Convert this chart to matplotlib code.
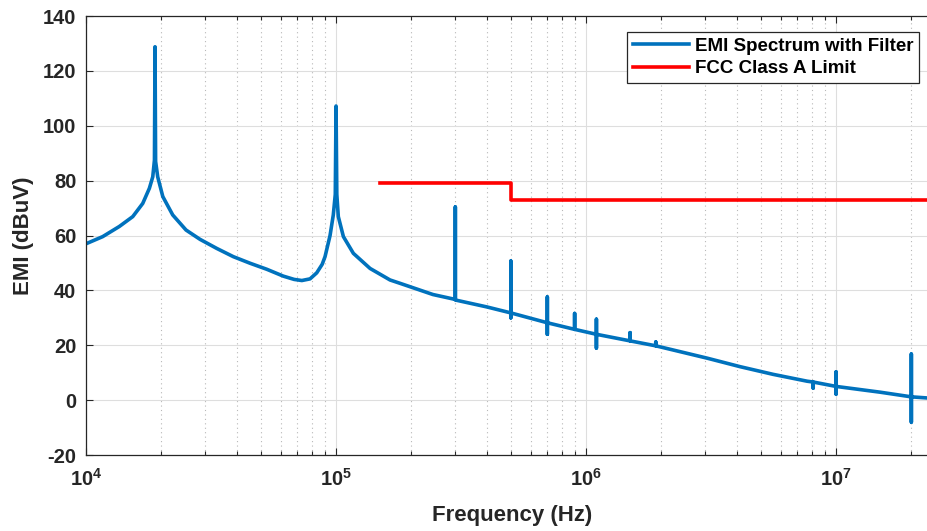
import matplotlib
matplotlib.use('Agg')
import matplotlib.pyplot as plt
from matplotlib.ticker import LogLocator, NullFormatter, MultipleLocator

plt.rcParams['font.family'] = ['Liberation Sans', 'DejaVu Sans']
plt.rcParams['font.weight'] = 'bold'
plt.rcParams['mathtext.fontset'] = 'custom'
plt.rcParams['mathtext.rm'] = 'Liberation Sans:bold'
plt.rcParams['mathtext.bf'] = 'Liberation Sans:bold'
plt.rcParams['mathtext.default'] = 'rm'
plt.rcParams['axes.unicode_minus'] = False

# EMI spectrum (Hz, dBuV); repeated frequencies are the narrow spikes
freq_hz = [1.0e4, 1.166e4, 1.359e4, 1.538e4, 1.686e4, 1.792e4, 1.849e4, 1.878e4, 1.888e4, 1.898e4,
           1.935e4, 2.028e4, 2.222e4, 2.512e4, 2.858e4, 3.333e4, 3.882e4, 4.529e4, 5.284e4, 6.152e4,
           6.8e4, 7.3e4, 7.87e4, 8.37e4, 8.8e4, 9.036e4, 9.462e4, 9.75e4, 9.93e4, 1.0e5,
           1.007e5, 1.021e5, 1.07e5, 1.173e5, 1.368e5, 1.644e5, 1.8e5, 2.44e5,
           3.0e5, 3.0e5, 3.0e5, 4.0e5,
           5.0e5, 5.0e5, 5.0e5, 5.0e5,
           7.0e5, 7.0e5, 7.0e5, 7.0e5,
           9.0e5, 9.0e5, 9.0e5,
           1.1e6, 1.1e6, 1.1e6, 1.1e6,
           1.5e6, 1.5e6, 1.5e6,
           1.9e6, 1.9e6, 1.9e6,
           3.05e6, 4.13e6, 5.6e6, 7.66e6, 8.1e6, 8.1e6, 8.1e6,
           1.0e7, 1.0e7, 1.0e7, 1.0e7, 1.5e7,
           2.0e7, 2.0e7, 2.0e7, 2.0e7, 2.31e7]
emi_dbuv = [57.0, 59.6, 63.3, 66.9, 71.7, 77.2, 81.4, 87.5, 128.8, 87.0,
            81.4, 74.2, 67.5, 62.0, 58.6, 55.3, 52.3, 49.9, 47.7, 45.2,
            44.0, 43.6, 44.2, 46.4, 49.5, 52.3, 60.0, 67.5, 75.0, 107.2,
            75.0, 66.9, 59.6, 53.5, 48.0, 43.8, 42.6, 38.5,
            36.7, 70.4, 36.5, 34.0,
            31.8, 50.7, 30.0, 31.8,
            28.2, 37.6, 24.0, 28.2,
            25.8, 31.6, 25.8,
            24.0, 29.5, 19.0, 24.0,
            21.6, 24.6, 21.6,
            19.8, 21.2, 19.8,
            15.3, 12.2, 9.4, 6.9, 6.6, 4.4, 6.6,
            5.0, 10.3, 2.2, 5.0, 2.9,
            1.2, 16.8, -8.0, 1.2, 0.8]

# FCC Class A conducted limit
limit_freq_hz = [1.5e5, 5.0e5, 5.0e5, 3.0e7]
limit_dbuv = [79, 79, 73, 73]

fig = plt.figure(figsize=(9.27, 5.31), dpi=100)
ax = fig.add_axes([0.0928, 0.1431, 0.9072, 0.8267])

ax.plot(freq_hz, emi_dbuv, color='#0072BD', linewidth=2.6, label='EMI Spectrum with Filter')
ax.plot(limit_freq_hz, limit_dbuv, color='#FF0000', linewidth=2.6, label='FCC Class A Limit')

ax.set_xscale('log')
ax.set_xlim(1e4, 2.31e7)
ax.set_ylim(-20, 140)
ax.yaxis.set_major_locator(MultipleLocator(20))
ax.xaxis.set_major_locator(LogLocator(base=10, numticks=10))
ax.xaxis.set_minor_locator(LogLocator(base=10, subs=range(2, 10), numticks=20))
ax.xaxis.set_minor_formatter(NullFormatter())

ax.grid(True, which='major', color='#dedede', linewidth=0.8, linestyle='-')
ax.grid(True, which='minor', axis='x', color='#b8b8b8', linewidth=0.8, linestyle=(0, (1, 3)))
ax.set_axisbelow(True)

ax.tick_params(which='both', direction='in', top=True, right=False, colors='#262626',
               labelsize=14.5)
ax.tick_params(which='major', length=5, width=0.8)
ax.tick_params(which='minor', length=3, width=0.8)
ax.tick_params(axis='x', which='major', pad=9)
ax.tick_params(axis='y', which='major', pad=7)
for name in ['left', 'bottom', 'top']:
    ax.spines[name].set_color('#262626')
    ax.spines[name].set_linewidth(0.9)
ax.spines['right'].set_visible(False)

ax.set_xlabel('Frequency (Hz)', fontsize=16, color='#262626', fontweight='bold')
ax.set_ylabel('EMI (dBuV)', fontsize=16, color='#262626', fontweight='bold')
ax.xaxis.set_label_coords(0.507, -0.115)
ax.yaxis.set_label_coords(-0.062, 0.5)

leg = ax.legend(loc='upper right', bbox_to_anchor=(0.991, 0.940), bbox_transform=fig.transFigure,
                fontsize=13.5, fancybox=False, framealpha=1, edgecolor='#262626',
                borderpad=0.3, labelspacing=0.3, handlelength=3.0, handletextpad=0.3,
                borderaxespad=0)
leg.get_frame().set_linewidth(0.9)
for t in leg.get_texts():
    t.set_color('#000000')

plt.savefig('out.png', dpi=100)
